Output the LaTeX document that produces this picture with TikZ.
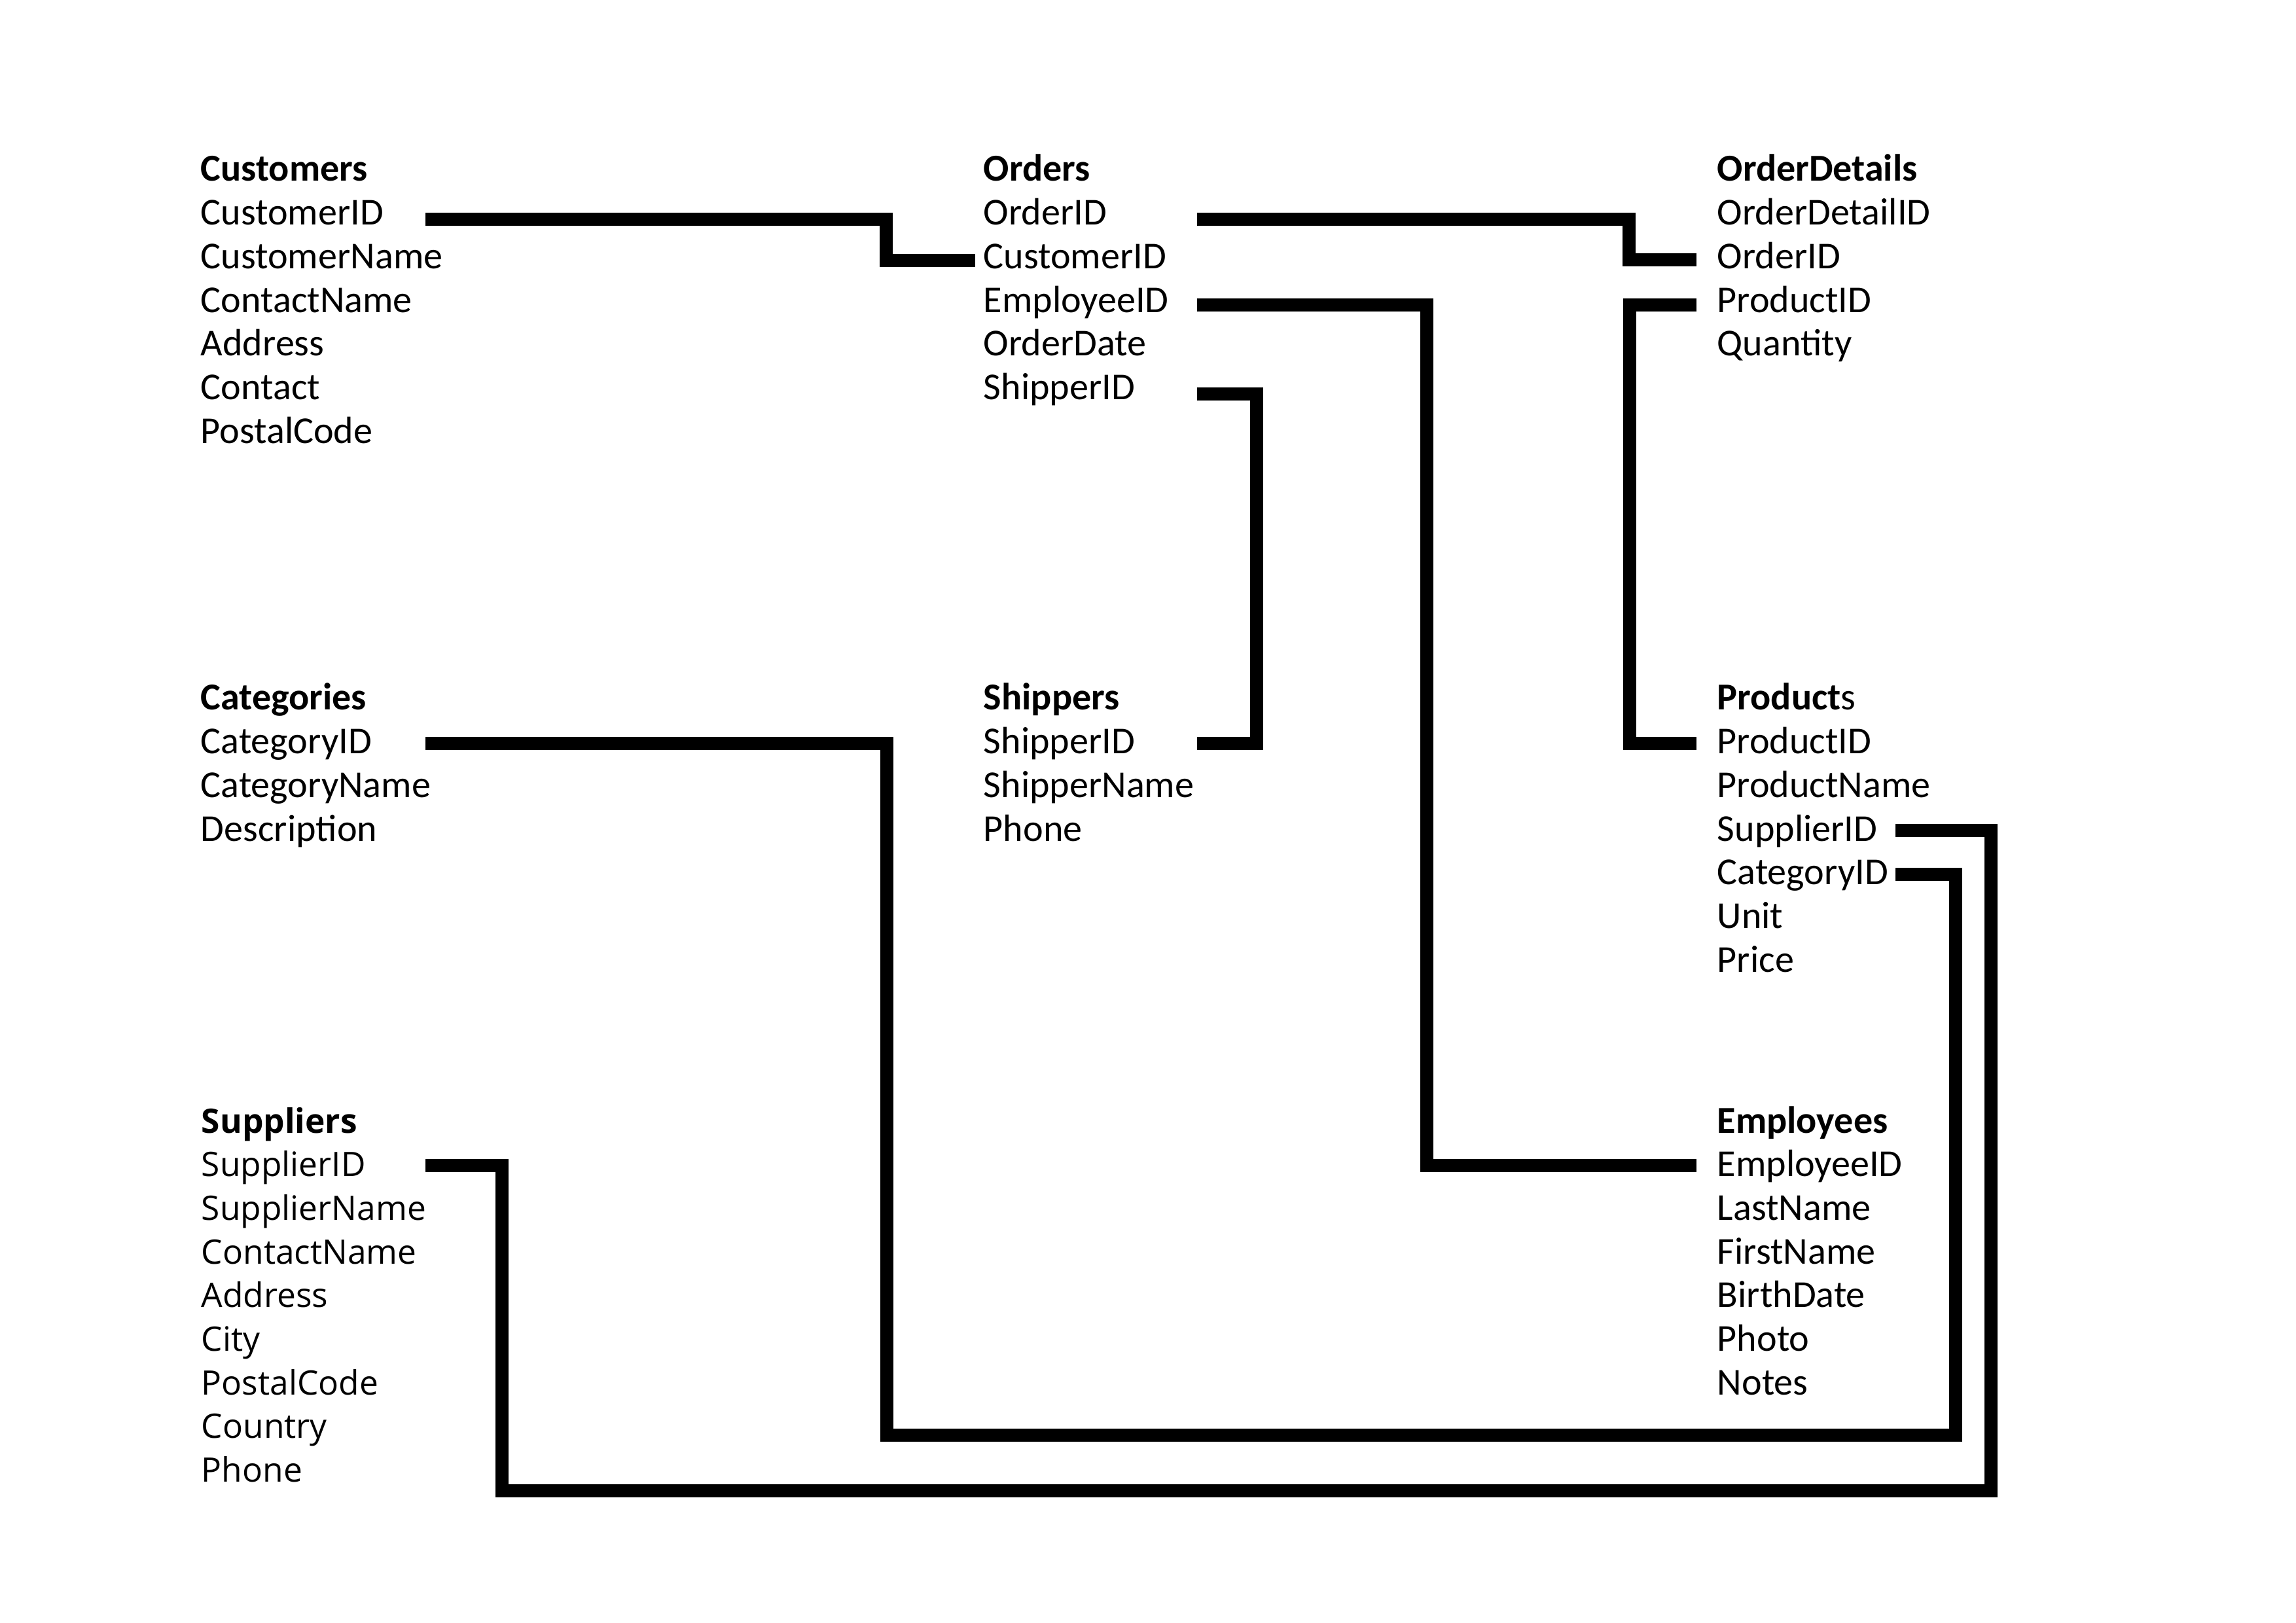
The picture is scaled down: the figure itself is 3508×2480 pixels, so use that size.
\documentclass[tikz,border=0pt]{standalone}
\usepackage{fontspec}
\setmainfont{Carlito}
\newfontfamily\supfont{Open Sans}
\begin{document}
\begin{tikzpicture}[x=0.24090pt, y=-0.24090pt,
  field/.style={anchor=base west, inner sep=0pt, font=\fontsize{14pt}{16pt}\selectfont},
  ttl/.style={field, font=\fontsize{14pt}{16pt}\selectfont\bfseries},
  sfield/.style={anchor=base west, inner sep=0pt, font=\supfont\fontsize{12.4pt}{15pt}\selectfont},
  sttl/.style={sfield, font=\supfont\fontsize{12.4pt}{15pt}\selectfont\bfseries},
  link/.style={line width=4.82pt, line join=miter}]
\fill[white] (0,0) rectangle (3508,2480);
\path[use as bounding box] (0,0) rectangle (3508,2480);

% ---- top row of tables
\node[ttl] (cust) at (306,277) {Customers};
\foreach \n/\t [count=\i] in {id/CustomerID, name/CustomerName, contact/ContactName,
    addr/Address, cont/Contact, postal/PostalCode}
  \node[field] (cust-\n) at (306,277+66.7*\i) {\t};

\node[ttl] (ord) at (1502,277) {Orders};
\foreach \n/\t [count=\i] in {id/OrderID, cust/CustomerID, emp/EmployeeID,
    date/OrderDate, ship/ShipperID}
  \node[field] (ord-\n) at (1502,277+66.7*\i) {\t};

\node[ttl] (od) at (2623,277) {OrderDetails};
\foreach \n/\t [count=\i] in {id/OrderDetailID, order/OrderID, prod/ProductID, qty/Quantity}
  \node[field] (od-\n) at (2623,277+66.7*\i) {\t};

% ---- middle row of tables
\node[ttl] (cat) at (306,1085) {Categories};
\foreach \n/\t [count=\i] in {id/CategoryID, name/CategoryName, desc/Description}
  \node[field] (cat-\n) at (306,1085+66.7*\i) {\t};

\node[ttl] (ship) at (1502,1085) {Shippers};
\foreach \n/\t [count=\i] in {id/ShipperID, name/ShipperName, phone/Phone}
  \node[field] (ship-\n) at (1502,1085+66.7*\i) {\t};

\node[field] (prod) at (2623,1085) {\textbf{Product}s};
\foreach \n/\t [count=\i] in {id/ProductID, name/ProductName, sup/SupplierID,
    cat/CategoryID, unit/Unit, price/Price}
  \node[field] (prod-\n) at (2623,1085+66.7*\i) {\t};

% ---- bottom row of tables
\node[sttl] (sup) at (307,1731) {Suppliers};
\foreach \n/\t [count=\i] in {id/SupplierID, name/SupplierName, contact/ContactName,
    addr/Address, city/City, postal/PostalCode, country/Country, phone/Phone}
  \node[sfield] (sup-\n) at (307,1731+66.7*\i) {\t};

\node[ttl] (emp) at (2623,1731) {Employees};
\foreach \n/\t [count=\i] in {id/EmployeeID, last/LastName, first/FirstName,
    birth/BirthDate, photo/Photo, notes/Notes}
  \node[field] (emp-\n) at (2623,1731+66.7*\i) {\t};

% ---- key pins beside the fields
\coordinate (cust-pin)    at (650,335);
\coordinate (ordcust-pin) at (1490,398);
\coordinate (ordid-pin)   at (1829,335);
\coordinate (odorder-pin) at (2592,397);
\coordinate (odprod-pin)  at (2592,466);
\coordinate (prodid-pin)  at (2592,1136);
\coordinate (ordemp-pin)  at (1829,466);
\coordinate (empid-pin)   at (2592,1781);
\coordinate (ordship-pin) at (1829,602);
\coordinate (shipid-pin)  at (1829,1136);
\coordinate (catid-pin)   at (650,1136);
\coordinate (prodcat-pin) at (2896,1336);
\coordinate (supid-pin)   at (650,1781);
\coordinate (prodsup-pin) at (2896,1269);

% ---- relationships
\draw[link] (cust-pin) -| (1354,398) -- (ordcust-pin);
\draw[link] (ordid-pin) -| (2489,397) -- (odorder-pin);
\draw[link] (odprod-pin) -| (2490,1136) -- (prodid-pin);
\draw[link] (ordemp-pin) -| (2180,1781) -- (empid-pin);
\draw[link] (ordship-pin) -| (1920,1136) -- (shipid-pin);
\draw[link] (catid-pin) -| (1355,2193) -| (2988,1336) -- (prodcat-pin);
\draw[link] (supid-pin) -| (767,2278) -| (3042,1269) -- (prodsup-pin);
\end{tikzpicture}
\end{document}
